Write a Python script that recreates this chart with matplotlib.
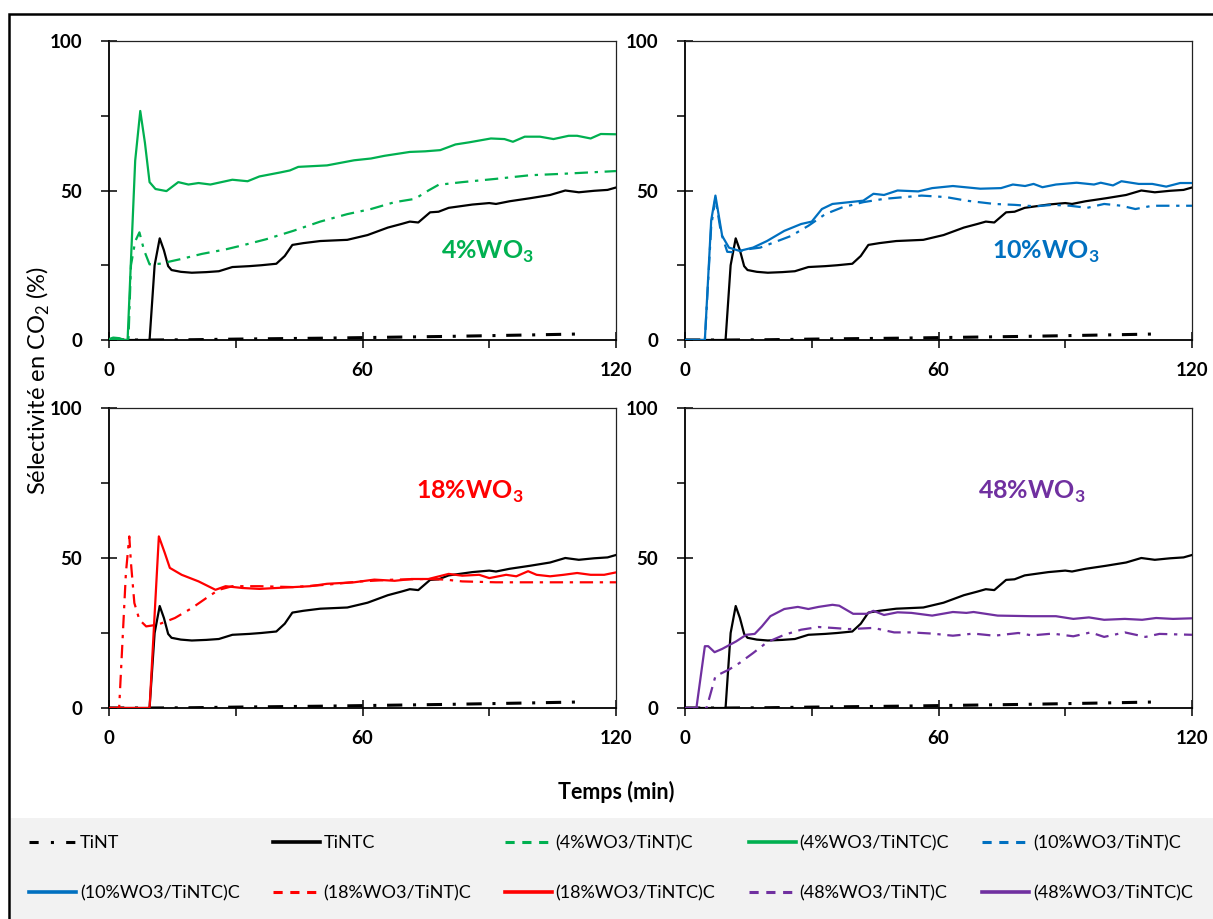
import matplotlib
matplotlib.use("Agg")
import matplotlib.pyplot as plt
from matplotlib.patches import Rectangle
from matplotlib.lines import Line2D
from matplotlib.ticker import MultipleLocator

plt.rcParams['font.family'] = ['Lato', 'DejaVu Sans']
plt.rcParams['mathtext.fontset'] = 'custom'
plt.rcParams['mathtext.rm'] = 'Lato'
plt.rcParams['mathtext.bf'] = 'Lato:bold'

# ---------------- data (time in min, CO2 selectivity in %) ----------------
tint_t = [0, 10, 20, 30, 40, 50, 60, 70, 80, 90, 100, 111]
tint_v = [0, 0, 0.1, 0.3, 0.45, 0.6, 0.8, 1.0, 1.2, 1.45, 1.7, 2.0]

tintc_t = [0, 9.6, 10.8, 12, 13, 14, 14.8, 17, 19.6, 23, 26, 29.2, 33.2, 36, 39.6, 41.6, 43.4, 46, 50,
           56.4, 61.2, 66, 69.2, 71.2, 73.2, 76, 78, 80.4, 86, 90, 91.6, 94.8, 99.6, 104.4, 108,
           111.2, 114.8, 118, 120]
tintc_v = [0, 0, 25, 34.0, 30, 24.7, 23.4, 22.8, 22.5, 22.7, 23.0, 24.4, 24.7, 25, 25.5, 28.1, 31.8, 32.4, 33.1,
           33.5, 35.1, 37.6, 38.8, 39.6, 39.3, 42.7, 42.9, 44.2, 45.3, 45.8, 45.5, 46.4, 47.4, 48.5, 50.0,
           49.4, 49.9, 50.2, 51.0]

wo4_tint_t = [0, 4.6, 5.2, 6.2, 7.2, 8.3, 9.6, 12, 16.8, 22, 27.6, 32, 37.2, 43.6, 50, 56.4, 62, 67.6,
              72.4, 75.6, 78, 83.6, 91.6, 99.6, 107.6, 120]
wo4_tint_v = [0, 0, 25, 33, 36.0, 30, 25.3, 25.5, 27.0, 28.8, 30.3, 31.8, 33.7, 36.5, 39.6, 42.1, 43.8, 46.1,
              47.2, 50.0, 51.9, 52.8, 53.9, 55.1, 55.6, 56.5]

wo4_tintc_t = [0, 1, 2.5, 3.5, 4.4, 6.2, 7.4, 8.5, 9.6, 11, 13.6, 16.4, 18.8, 21.2, 24, 29.2, 32.8, 35.6,
               40.4, 42.8, 44.8, 51.6, 58, 62, 65.2, 71.2, 74.8, 78.4, 82, 85.2, 90.4, 93.6, 95.6, 98.4,
               102, 105.2, 108.8, 110.8, 114, 116.4, 120]
wo4_tintc_v = [0.3, 0.8, 0.6, 0, 0, 60, 76.6, 66, 52.8, 50.5, 49.8, 52.8, 52.0, 52.5, 52.0, 53.6, 53.1, 54.7,
               56.0, 56.7, 57.9, 58.4, 60.1, 60.7, 61.6, 62.9, 63.1, 63.5, 65.4, 66.1, 67.4, 67.2, 66.3, 68.0,
               68.0, 67.2, 68.3, 68.3, 67.4, 68.9, 68.8]

wo10_tint_t = [0, 4.7, 6.2, 7.2, 8.5, 10, 12, 14.5, 17.8, 21, 25.1, 29.2, 33.2, 37.3, 42.2, 47.1, 52, 56,
               61.8, 66.6, 73.2, 78, 82.9, 87, 91.1, 95.2, 99.2, 103.3, 106.6, 110.6, 114.7, 120]
wo10_tint_v = [0, 0, 38, 47.5, 36, 29.5, 29.3, 30.3, 30.9, 32.6, 34.8, 38.2, 42.1, 44.4, 46.1, 47.2, 47.8, 48.3,
               47.8, 46.6, 45.5, 45.2, 44.7, 45.2, 44.9, 44.2, 45.5, 44.9, 43.8, 44.9, 44.9, 44.9]

wo10_tintc_t = [0, 4.7, 6.2, 7.2, 8.8, 10.4, 12.9, 16.1, 19.4, 23.5, 27.5, 30, 32.4, 34.9, 38.9, 42.2,
                44.6, 47.1, 50.3, 55.2, 58.5, 63.4, 69.9, 74.8, 77.6, 80.5, 82.5, 84.6, 87.8, 92.7, 96.8,
                98.4, 101.3, 103.3, 107.4, 110.6, 113.9, 117.2, 120]
wo10_tintc_v = [0, 0, 40, 48.3, 34.8, 30.9, 29.8, 30.9, 33.1, 36.5, 38.8, 39.6, 43.8, 45.5, 46.1, 46.6,
                48.9, 48.5, 50.0, 49.7, 50.8, 51.5, 50.6, 50.8, 52.0, 51.5, 52.2, 51.1, 52.0, 52.6, 52.0,
                52.6, 51.7, 53.1, 52.2, 52.2, 51.3, 52.5, 52.5]

wo18_tint_t = [0, 2.4, 4.0, 4.8, 5.2, 6.0, 7.2, 8.8, 11.6, 15.6, 19.6, 23.6, 26, 29.2, 35.6, 43.6, 51.6,
               59.6, 67.6, 75.6, 79.6, 83.6, 91.6, 99.6, 107.6, 120]
wo18_tint_v = [0, 0, 45, 57.2, 48.3, 35.0, 29.4, 27.2, 27.8, 30.0, 33.3, 37.2, 39.4, 40.6, 40.6, 40.3, 41.1,
               42.2, 42.8, 43.0, 42.8, 42.2, 41.9, 41.9, 41.9, 41.9]

wo18_tintc_t = [0, 9.6, 11.8, 13.2, 14.4, 17.2, 21.2, 25.2, 27.6, 31.6, 35.6, 39.6, 43.6, 47.6, 51.6, 58,
                62.8, 67.6, 71.6, 75.6, 80.4, 83.6, 87.6, 90, 94, 96.4, 99.2, 101.2, 104.4, 107.6, 110.8,
                114, 117.2, 120]
wo18_tintc_v = [0, 0, 57.2, 51.7, 46.7, 44.4, 42.2, 39.4, 40.6, 40.0, 39.7, 40.0, 40.3, 40.6, 41.4, 41.9,
                42.8, 42.4, 43.0, 43.0, 44.7, 44.1, 44.4, 43.3, 44.4, 43.9, 45.6, 44.4, 43.9, 44.4, 45.0,
                44.4, 44.4, 45.2]

wo48_tint_t = [0, 5.1, 7.2, 10.4, 12.9, 16.1, 19.4, 23.5, 27.5, 31.6, 34.9, 38.9, 44.6, 49.5, 53.6, 58.5,
               63.4, 68.3, 73.2, 78.9, 82.1, 87, 91.9, 96, 99.2, 104.1, 109, 112.3, 120]
wo48_tint_v = [0, 0, 10.6, 12.8, 15.0, 18.3, 21.9, 24.4, 26.1, 27.0, 26.7, 26.3, 26.7, 25.2, 25.2, 24.8,
               24.1, 24.8, 24.1, 25.0, 24.2, 24.8, 23.9, 25.2, 23.7, 25.2, 23.7, 24.7, 24.4]

wo48_tintc_t = [0, 2.7, 4.7, 5.5, 7, 8.8, 12.1, 14.5, 16.5, 18.2, 20.2, 23.5, 26.7, 29.2, 31.6, 34.9, 36.5,
                39.8, 43, 44.6, 47.1, 50.3, 53.6, 58.5, 63.4, 66.6, 68.3, 74, 82.1, 87.8, 91.9, 95.6,
                99.2, 104.1, 108.2, 111.5, 115.5, 120]
wo48_tintc_v = [0, 0, 20.6, 20.6, 18.6, 19.7, 22.2, 24.4, 24.7, 27.2, 30.6, 33.0, 33.7, 33.0, 33.7, 34.4, 34.1,
                31.4, 31.4, 32.4, 31.0, 31.9, 31.7, 30.8, 32.0, 31.7, 32.0, 30.8, 30.6, 30.6, 29.7, 30.2,
                29.4, 29.7, 29.4, 30.0, 29.7, 29.9]

panel_names = ['4%WO$_\\mathbf{3}$', '10%WO$_\\mathbf{3}$', '18%WO$_\\mathbf{3}$', '48%WO$_\\mathbf{3}$']
panel_colors = ['#00b050', '#0070c0', '#ff0000', '#7030a0']
x_ticks = [0, 60, 120]
y_ticks = [0, 50, 100]

# ---------------- layout ----------------
W, H = 1213, 919
fig = plt.figure(figsize=(W / 100, H / 100), dpi=100)

def rect(l, r, t, b):
    return [l / W, 1 - b / H, (r - l) / W, (b - t) / H]

# outer frame and legend background
fig.patches.append(Rectangle((11 / W, 0), 1.0, (919 - 818) / H, transform=fig.transFigure,
                             facecolor='#f2f2f2', edgecolor='none', zorder=0))
fig.patches.append(Rectangle((9 / W, -0.1), 1.2, (919 - 14) / H + 0.1, transform=fig.transFigure,
                             facecolor='none', edgecolor='black', linewidth=1.8, zorder=1))

boxes = [rect(109, 616, 41, 340), rect(685, 1192, 41, 340),
         rect(109, 616, 408, 708), rect(685, 1192, 408, 708)]
series = [(wo4_tint_t, wo4_tint_v, wo4_tintc_t, wo4_tintc_v),
          (wo10_tint_t, wo10_tint_v, wo10_tintc_t, wo10_tintc_v),
          (wo18_tint_t, wo18_tint_v, wo18_tintc_t, wo18_tintc_v),
          (wo48_tint_t, wo48_tint_v, wo48_tintc_t, wo48_tintc_v)]
label_pos = [(89.5, 29.5), (85.5, 29.5), (85.5, 72), (82, 72)]

DASHDOT = (6, 3, 1.5, 3)
LW = 1.6

for i, box in enumerate(boxes):
    ax = fig.add_axes(box)
    c = panel_colors[i]
    ax.plot(tint_t, tint_v, color='black', lw=2.2, dashes=(5, 3.5, 1, 3.5), zorder=2)
    ax.plot(tintc_t, tintc_v, color='black', lw=LW, zorder=3)
    st, sv, ct, cv = series[i]
    ax.plot(st, sv, color=c, lw=LW, dashes=DASHDOT, zorder=4)
    ax.plot(ct, cv, color=c, lw=LW, zorder=5)
    ax.text(label_pos[i][0], label_pos[i][1], panel_names[i], color=c, fontsize=18,
            fontweight='bold', ha='center', va='center')
    ax.set_xlim(0, 120)
    ax.set_ylim(0, 100)
    ax.set_xticks(x_ticks)
    ax.set_yticks(y_ticks)
    ax.xaxis.set_minor_locator(MultipleLocator(30))
    ax.yaxis.set_minor_locator(MultipleLocator(25))
    ax.tick_params(which='major', direction='inout', length=11, width=1.1, labelsize=13.5, color='black')
    ax.tick_params(which='minor', direction='out', length=5.5, width=1.1)
    ax.tick_params(axis='y', which='major', pad=14)
    ax.tick_params(axis='x', which='major', pad=10)
    for lab in ax.get_xticklabels() + ax.get_yticklabels():
        lab.set_fontweight('bold')
    for s in ['left', 'bottom']:
        ax.spines[s].set_linewidth(1.3)
    for s in ['top', 'right']:
        ax.spines[s].set_linewidth(0.9)
        ax.spines[s].set_color('#222222')
    ax.set_facecolor('none')

fig.text(38 / W, 1 - 380 / H, 'Sélectivité en CO$_\\mathrm{2}$ (%)', rotation=90, fontsize=17,
         ha='center', va='center')
fig.text(616 / W, 1 - 792 / H, 'Temps (min)', fontsize=15.5, fontweight='bold', ha='center', va='center')

# ---------------- legend ----------------
legend_labels = ['TiNT', 'TiNTC', '(4%WO3/TiNT)C', '(4%WO3/TiNTC)C', '(10%WO3/TiNT)C',
                 '(10%WO3/TiNTC)C', '(18%WO3/TiNT)C', '(18%WO3/TiNTC)C', '(48%WO3/TiNT)C', '(48%WO3/TiNTC)C']
legend_colors = ['black', 'black', panel_colors[0], panel_colors[0], panel_colors[1],
                 panel_colors[1], panel_colors[2], panel_colors[2], panel_colors[3], panel_colors[3]]
legend_dash = ['dashdot', 'solid', 'dashed', 'solid', 'dashed', 'solid', 'dashed', 'solid', 'dashed', 'solid']
handles = []
for lab, col, d in zip(legend_labels, legend_colors, legend_dash):
    if d == 'dashdot':
        h = Line2D([], [], color=col, lw=2.2, dashes=(3, 4, 1, 4))
    elif d == 'dashed':
        h = Line2D([], [], color=col, lw=2.2, dashes=(3, 2.5))
    else:
        h = Line2D([], [], color=col, lw=2.6)
    handles.append(h)
order = [0, 5, 1, 6, 2, 7, 3, 8, 4, 9]
leg = fig.legend([handles[k] for k in order], [legend_labels[k] for k in order],
                 ncol=5, mode='expand', frameon=False,
                 bbox_to_anchor=(22 / W, 1 - 915 / H, (1200 - 22) / W, (915 - 822) / H),
                 loc='center', fontsize=13, handlelength=2.6, handletextpad=0.2,
                 labelspacing=1.9, borderaxespad=0, columnspacing=1.0)

fig.savefig('out.png', dpi=100)
